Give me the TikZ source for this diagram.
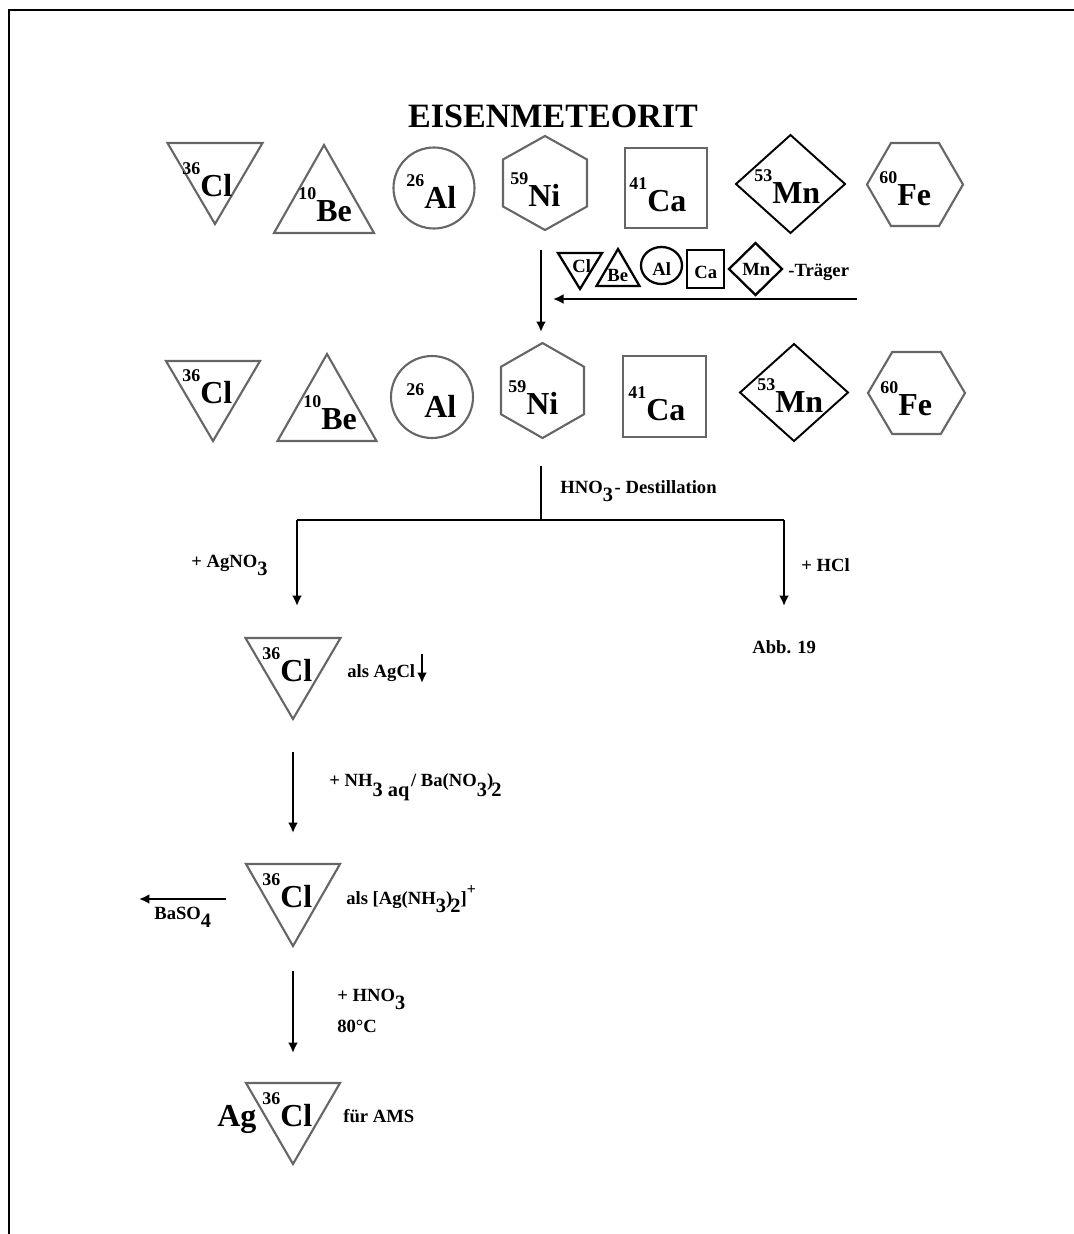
\documentclass[tikz,border=0pt]{standalone}
\usepackage{fontspec}
\setmainfont{Liberation Serif}
\usepackage{xcolor}
\usetikzlibrary{arrows.meta,shapes.geometric}
\definecolor{nGrey}{HTML}{666666}
\definecolor{nBlack}{HTML}{000000}
\newcommand{\iso}[2]{\raisebox{12pt}{\fontsize{10.2}{12}\selectfont #1}#2}
\newcommand{\lowtxt}[2][-5pt]{\raisebox{#1}{\fontsize{11.6}{12}\selectfont #2}}
\tikzset{
  greyline/.style={draw=nGrey, line width=1.2pt, inner sep=0pt, outer sep=0pt},
  blackline/.style={draw=nBlack, line width=1.1pt, inner sep=0pt, outer sep=0pt},
  boxline/.style={draw=nBlack, line width=1.3pt, inner sep=0pt, outer sep=0pt},
  tridown/.style 2 args={isosceles triangle, isosceles triangle stretches, shape border rotate=-90, anchor=apex, minimum width=#1*0.02cm, minimum height=#2*0.02cm},
  triup/.style 2 args={isosceles triangle, isosceles triangle stretches, shape border rotate=90, anchor=apex, minimum width=#1*0.02cm, minimum height=#2*0.02cm},
  oval/.style 2 args={ellipse, minimum width=#1*0.02cm, minimum height=#2*0.02cm},
  square/.style 2 args={rectangle, minimum width=#1*0.02cm, minimum height=#2*0.02cm},
  rhomb/.style 2 args={diamond, /utils/exec={\pgfmathsetmacro\rhombasp{#1/#2}}, aspect=\rhombasp, minimum width=#1*0.02cm, minimum height=#2*0.02cm},
  hexup/.style 2 args={regular polygon, regular polygon sides=6, shape border rotate=30, minimum size=#2*0.02cm, transform shape, xscale=#1/#2/0.866},
  hexflat/.style 2 args={regular polygon, regular polygon sides=6, minimum size=#1*0.02cm, transform shape, yscale=#2/#1/0.866},
  biglbl/.style={anchor=base west, inner sep=0pt, font=\fontsize{18.2}{20}\selectfont\bfseries},
  smalllbl/.style={anchor=base west, inner sep=0pt, font=\fontsize{10.6}{12}\selectfont\bfseries},
  pfeil/.style={line width=1.3pt, -{Latex[length=2.1mm,width=2mm]}},
  strich/.style={line width=1.3pt}
}
\begin{document}
\begin{tikzpicture}[x=0.02cm,y=-0.02cm]
  \useasboundingbox (0,0) rectangle (1074,1234);
  \coordinate (frameTL) at (9,10);
  \coordinate (frameTR) at (1074,10);
  \coordinate (frameBL) at (9,1234);
  \draw[line width=1.3pt] (frameBL) -- (frameTL) -- (frameTR);

  \node[font=\fontsize{19.4}{22}\selectfont\bfseries, anchor=base, inner sep=0pt] (title) at (553,127) {EISENMETEORIT};

  \node[greyline, tridown={95}{81}] (clOne) at (215,224) {};
  \node[greyline, triup={100}{88}] (beOne) at (324,145) {};
  \node[greyline, oval={81}{81}] (alOne) at (434,188) {};
  \node[greyline, hexup={84}{94}] (niOne) at (545,183) {};
  \node[greyline, square={82}{80}] (caOne) at (666,188) {};
  \node[blackline, rhomb={109}{98}] (mnOne) at (790.5,184) {};
  \node[greyline, hexflat={96}{83}] (feOne) at (915,184.5) {};
  \node[biglbl] (clOneLbl) at (182,196) {\iso{36}{Cl}};
  \node[biglbl] (beOneLbl) at (298,221) {\iso{10}{Be}};
  \node[biglbl] (alOneLbl) at (406,208) {\iso{26}{Al}};
  \node[biglbl] (niOneLbl) at (510,206) {\iso{59}{Ni}};
  \node[biglbl] (caOneLbl) at (629,211) {\iso{41}{Ca}};
  \node[biglbl] (mnOneLbl) at (754,203) {\iso{53}{Mn}};
  \node[biglbl] (feOneLbl) at (879,205) {\iso{60}{Fe}};

  \node[boxline, tridown={44}{36}] (clSm) at (580,289) {};
  \node[boxline, triup={43}{37}] (beSm) at (618,249) {};
  \node[boxline, oval={41}{37}] (alSm) at (661.5,265.5) {};
  \node[boxline, square={37}{38}] (caSm) at (705.5,269) {};
  \node[boxline, rhomb={53}{52}] (mnSm) at (755.5,269) {};
  \node[smalllbl] (clSmLbl) at (572,272) {Cl};
  \node[smalllbl] (beSmLbl) at (607,281) {Be};
  \node[smalllbl] (alSmLbl) at (652,275) {Al};
  \node[smalllbl] (caSmLbl) at (694,278) {Ca};
  \node[smalllbl] (mnSmLbl) at (742,275) {Mn};
  \node[smalllbl] (traeger) at (788,276) {-Träger};
  \coordinate (traegerIn) at (857,299);
  \coordinate (traegerOut) at (553,299);
  \draw[pfeil] (traegerIn) -- (traegerOut);
  \coordinate (mixIn) at (541,250);
  \coordinate (mixOut) at (541,332);
  \draw[pfeil] (mixIn) -- (mixOut);

  \node[greyline, tridown={94}{80}] (clTwo) at (213,441) {};
  \node[greyline, triup={99}{87}] (beTwo) at (327,354) {};
  \node[greyline, oval={82}{82}] (alTwo) at (432,397) {};
  \node[greyline, hexup={83}{95}] (niTwo) at (542.5,390.5) {};
  \node[greyline, square={83}{81}] (caTwo) at (664.5,396.5) {};
  \node[blackline, rhomb={108}{97}] (mnTwo) at (794,392.5) {};
  \node[greyline, hexflat={97}{82}] (feTwo) at (916.5,393) {};
  \node[biglbl] (clTwoLbl) at (182,403) {\iso{36}{Cl}};
  \node[biglbl] (beTwoLbl) at (303,429) {\iso{10}{Be}};
  \node[biglbl] (alTwoLbl) at (406,417) {\iso{26}{Al}};
  \node[biglbl] (niTwoLbl) at (508,414) {\iso{59}{Ni}};
  \node[biglbl] (caTwoLbl) at (628,420) {\iso{41}{Ca}};
  \node[biglbl] (mnTwoLbl) at (757,412) {\iso{53}{Mn}};
  \node[biglbl] (feTwoLbl) at (880,415) {\iso{60}{Fe}};

  \coordinate (trunkIn) at (541,466);
  \coordinate (fork) at (541,520);
  \coordinate (forkL) at (297,520);
  \coordinate (forkR) at (784,520);
  \coordinate (agEnd) at (297,606);
  \coordinate (hclEnd) at (784,606);
  \draw[strich] (trunkIn) -- (fork);
  \draw[strich] (forkL) -- (forkR);
  \draw[pfeil] (forkL) -- (agEnd);
  \draw[pfeil] (forkR) -- (hclEnd);
  \node[smalllbl] (destLbl) at (560,493) {HNO\lowtxt{3}\kern 1pt- Destillation};
  \node[smalllbl] (agnoLbl) at (191,567) {+ AgNO\lowtxt{3}};
  \node[smalllbl] (hclLbl) at (801,571) {+ HCl};
  \node[smalllbl] (abbLbl) at (752,653) {Abb. 19};

  \node[greyline, tridown={95}{81}] (clA) at (293,719) {};
  \node[biglbl] (clALbl) at (262,681) {\iso{36}{Cl}};
  \node[smalllbl] (agclLbl) at (347,677) {als AgCl};
  \coordinate (fallIn) at (422,654);
  \coordinate (fallOut) at (422,683);
  \draw[pfeil] (fallIn) -- (fallOut);

  \node[greyline, tridown={94}{82}] (clB) at (293,946) {};
  \node[biglbl] (clBLbl) at (262,907) {\iso{36}{Cl}};
  \node[smalllbl] (nhLbl) at (329,786) {+ NH\lowtxt[-6.2pt]{3 aq}\kern 1pt/ Ba(NO\lowtxt[-6.2pt]{3})\kern -1pt\lowtxt[-6.2pt]{2}};
  \node[smalllbl] (komplexLbl) at (346,904) {als [Ag(NH\lowtxt{3})\kern -1pt\lowtxt{2}]\raisebox{5.5pt}{\fontsize{9}{9}\selectfont +}};
  \node[smalllbl] (basoLbl) at (154,919) {BaSO\lowtxt{4}};
  \coordinate (basoIn) at (226,899);
  \coordinate (basoOut) at (139,899);
  \draw[pfeil] (basoIn) -- (basoOut);

  \node[greyline, tridown={94}{81}] (clC) at (293,1164) {};
  \node[biglbl] (agLbl) at (217,1126) {Ag};
  \node[biglbl] (clCLbl) at (262,1126) {\iso{36}{Cl}};
  \node[smalllbl] (hnoLbl) at (337,1001) {+ HNO\lowtxt{3}};
  \node[smalllbl] (gradLbl) at (337,1032) {80°C};
  \node[smalllbl] (amsLbl) at (343,1122) {für AMS};

  \draw[pfeil, shorten <=0.66cm, shorten >=0.62cm] (clA.apex) -- (clB.lower side);
  \draw[pfeil, shorten <=0.5cm, shorten >=0.6cm] (clB.apex) -- (clC.lower side);
\end{tikzpicture}
\end{document}
